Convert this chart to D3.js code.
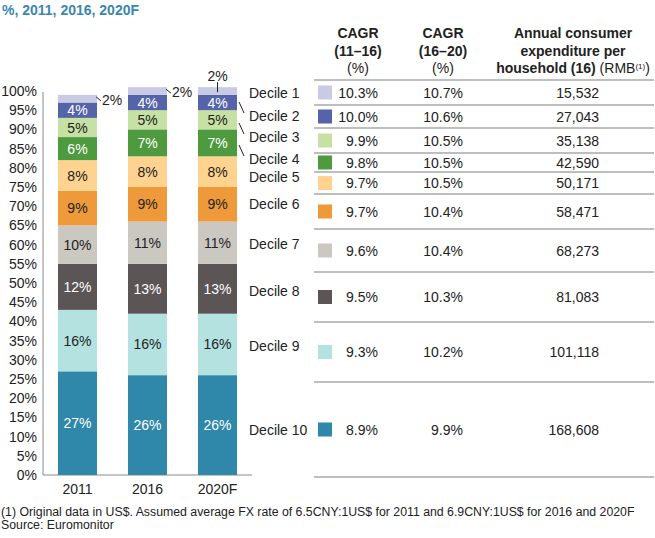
<!DOCTYPE html>
<html>
<head>
<meta charset="utf-8">
<script src="https://cdn.jsdelivr.net/npm/d3@7"></script>
<style>
  html, body { margin: 0; padding: 0; background: #fff; }
  svg { display: block; font-family: "Liberation Sans", Arial, Helvetica, sans-serif; }
</style>
</head>
<body>
<svg id="chart" width="655" height="538"></svg>
<script>
// ---------- DATA ----------
const years = ["2011", "2016", "2020F"];
const deciles = ["Decile 1", "Decile 2", "Decile 3", "Decile 4", "Decile 5",
                 "Decile 6", "Decile 7", "Decile 8", "Decile 9", "Decile 10"];
// share of consumption (%) by decile, stacked from Decile 10 at bottom
const share2011  = [2, 4, 5, 6, 8, 9, 10, 12, 16, 27];
const share2016  = [2, 4, 5, 7, 8, 9, 11, 13, 16, 26];
const share2020F = [2, 4, 5, 7, 8, 9, 11, 13, 16, 26];
const cagr1116 = ["10.3%", "10.0%", "9.9%", "9.8%", "9.7%", "9.7%", "9.6%", "9.5%", "9.3%", "8.9%"];
const cagr1620 = ["10.7%", "10.6%", "10.5%", "10.5%", "10.5%", "10.4%", "10.4%", "10.3%", "10.2%", "9.9%"];
const expenditure = ["15,532", "27,043", "35,138", "42,590", "50,171", "58,471", "68,273", "81,083", "101,118", "168,608"];
const yTicks = d3.range(0, 101, 5);
const titleText = "%, 2011, 2016, 2020F";
const footnotes = [
  "(1) Original data in US$. Assumed average FX rate of 6.5CNY:1US$ for 2011 and 6.9CNY:1US$ for 2016 and 2020F",
  "Source: Euromonitor"
];

// ---------- STYLE / LAYOUT ----------
const colors = ["#c9cae3", "#5563a9", "#c6e1a3", "#4e9a3e", "#fdd38f",
                "#ee9a3a", "#cbc8c1", "#5b5556", "#b3e2e1", "#2f87a9"];
const lightText = [false, true, false, true, false, false, false, true, false, true];
const decileLabelY = [93, 116, 137, 159, 177, 204, 244, 291, 346, 430];
const rowLines = [80, 105, 128, 153, 172, 194, 229, 272, 322, 382, 477];

const svg = d3.select("#chart");
const FS = 14;

const x = d3.scaleBand().domain(years).range([43, 252]).paddingInner(0.443).paddingOuter(0.214);
const y = d3.scaleLinear().domain([0, 100]).range([475, 91]);

// title
svg.append("text").attr("x", 2).attr("y", 15)
  .attr("font-size", 14).attr("font-weight", "bold").attr("fill", "#3a87b0")
  .text(titleText);

// y tick labels
svg.append("g").selectAll("text").data(yTicks).join("text")
  .attr("x", 37).attr("y", d => y(d)).attr("dy", "0.35em")
  .attr("text-anchor", "end").attr("font-size", FS).attr("fill", "#222")
  .text(d => d + "%");

// axis lines
svg.append("line").attr("x1", 43).attr("x2", 43).attr("y1", y(100) + 1).attr("y2", y(0))
  .attr("stroke", "#8a8a8a").attr("stroke-width", 1);
svg.append("line").attr("x1", 43).attr("x2", 252).attr("y1", y(0)).attr("y2", y(0))
  .attr("stroke", "#8a8a8a").attr("stroke-width", 1);

// x labels
svg.append("g").selectAll("text").data(years).join("text")
  .attr("x", d => x(d) + x.bandwidth() / 2).attr("y", 494)
  .attr("text-anchor", "middle").attr("font-size", FS).attr("fill", "#222")
  .text(d => d);

// stacked bars
const seriesByYear = { "2011": share2011, "2016": share2016, "2020F": share2020F };
const segs = [];
years.forEach(yr => {
  const vals = seriesByYear[yr];
  let cum = 0;
  for (let i = vals.length - 1; i >= 0; i--) {
    segs.push({ year: yr, idx: i, y0: cum, y1: cum + vals[i], v: vals[i] });
    cum += vals[i];
  }
});
const gBars = svg.append("g");
gBars.selectAll("rect").data(segs).join("rect")
  .attr("x", d => x(d.year)).attr("width", x.bandwidth())
  .attr("y", d => y(d.y1)).attr("height", d => y(d.y0) - y(d.y1))
  .attr("fill", d => colors[d.idx]);
gBars.selectAll("text").data(segs.filter(d => d.idx !== 0)).join("text")
  .attr("x", d => x(d.year) + x.bandwidth() / 2)
  .attr("y", d => (y(d.y0) + y(d.y1)) / 2).attr("dy", "0.36em")
  .attr("text-anchor", "middle").attr("font-size", FS)
  .attr("fill", d => lightText[d.idx] ? "#fff" : "#222")
  .text(d => d.v + "%");

// external labels for Decile 1 (2%)
segs.filter(d => d.idx === 0).forEach(d => {
  const right = x(d.year) + x.bandwidth();
  const top = y(d.y1);
  if (d.year !== "2020F") {
    svg.append("line").attr("x1", right - 1).attr("y1", top + 2).attr("x2", right + 4).attr("y2", top + 6)
      .attr("stroke", "#222").attr("stroke-width", 1);
    svg.append("text").attr("x", right + 5).attr("y", top + 5).attr("dy", "0.36em")
      .attr("font-size", FS).attr("fill", "#222").text(d.v + "%");
  } else {
    const cx = x(d.year) + x.bandwidth() / 2;
    svg.append("line").attr("x1", cx).attr("x2", cx).attr("y1", top - 5).attr("y2", top + 5)
      .attr("stroke", "#222").attr("stroke-width", 1);
    svg.append("text").attr("x", cx).attr("y", top - 11).attr("dy", "0.36em")
      .attr("text-anchor", "middle").attr("font-size", FS).attr("fill", "#222").text(d.v + "%");
  }
});

// decile labels
svg.append("g").selectAll("text").data(deciles).join("text")
  .attr("x", 249).attr("y", (d, i) => decileLabelY[i]).attr("dy", "0.36em")
  .attr("font-size", FS).attr("fill", "#222").text(d => d);
// leader lines for deciles 2-4
const barRight = x("2020F") + x.bandwidth();
[1, 2, 3].forEach(i => {
  const ly = decileLabelY[i];
  svg.append("line").attr("x1", barRight + 2).attr("y1", ly - 14).attr("x2", barRight + 7).attr("y2", ly - 3)
    .attr("stroke", "#222").attr("stroke-width", 1);
});

// ---------- TABLE ----------
const gT = svg.append("g");
const hdr = (cx, lines) => {
  lines.forEach((ln, j) => {
    const t = gT.append("text").attr("x", cx).attr("y", 38 + j * 17.5)
      .attr("text-anchor", "middle").attr("font-size", FS).attr("fill", "#222");
    ln.forEach(part => {
      const ts = t.append("tspan").text(part.t).attr("font-weight", part.b ? "bold" : "normal");
      if (part.sup) ts.attr("font-size", 8).attr("baseline-shift", "super");
    });
  });
};
hdr(358, [[{ t: "CAGR", b: 1 }], [{ t: "(11–16)", b: 1 }], [{ t: "(%)" }]]);
hdr(443, [[{ t: "CAGR", b: 1 }], [{ t: "(16–20)", b: 1 }], [{ t: "(%)" }]]);
hdr(573, [[{ t: "Annual consumer", b: 1 }], [{ t: "expenditure per", b: 1 }],
          [{ t: "household (16)", b: 1 }, { t: " (RMB" }, { t: "(1)", sup: 1 }, { t: ")" }]]);

gT.selectAll("line.sep").data(rowLines).join("line").attr("class", "sep")
  .attr("x1", 314).attr("x2", 654).attr("y1", d => d).attr("y2", d => d)
  .attr("stroke", "#a9a9a9").attr("stroke-width", 1.3);

const rowMid = deciles.map((d, i) => (rowLines[i] + rowLines[i + 1]) / 2);
gT.selectAll("rect.sw").data(deciles).join("rect").attr("class", "sw")
  .attr("x", 318).attr("width", 14).attr("y", (d, i) => rowMid[i] - 7).attr("height", 14)
  .attr("fill", (d, i) => colors[i]);
const col = (data, xr) => gT.append("g").selectAll("text").data(data).join("text")
  .attr("x", xr).attr("y", (d, i) => rowMid[i]).attr("dy", "0.36em")
  .attr("text-anchor", "end").attr("font-size", FS).attr("fill", "#222").text(d => d);
col(cagr1116, 378);
col(cagr1620, 463);
col(expenditure, 599);

// footnotes
svg.append("g").selectAll("text").data(footnotes).join("text")
  .attr("x", 1).attr("y", (d, i) => 516 + i * 12.5)
  .attr("font-size", 12.3).attr("fill", "#222").text(d => d);
</script>
</body>
</html>
